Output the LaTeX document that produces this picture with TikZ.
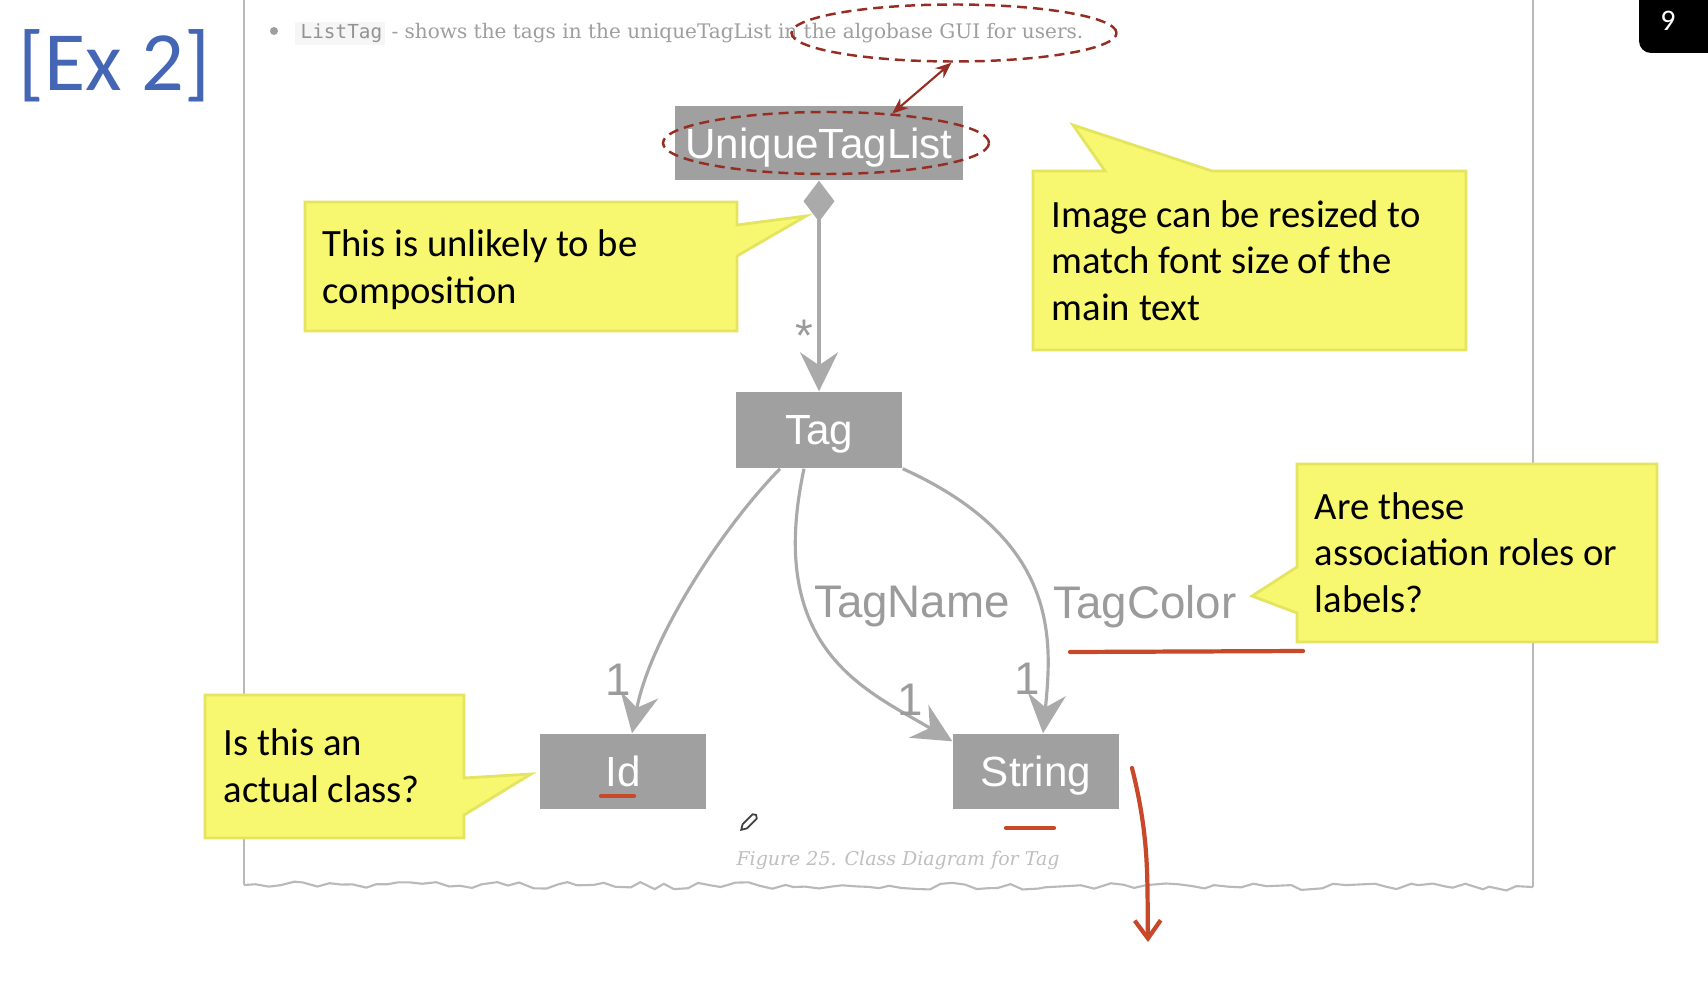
\documentclass[tikz,border=0pt]{standalone}
\usepackage{fontspec}
\setmainfont{Carlito}
\newfontfamily\umlfont{Liberation Sans}
\newfontfamily\docfont{DejaVu Serif}
\newfontfamily\codefont{DejaVu Sans Mono}
\usetikzlibrary{arrows.meta, calc, shapes.geometric, decorations.pathmorphing}
\definecolor{umlgray}{RGB}{160, 160, 160}
\definecolor{linegray}{RGB}{170, 170, 170}
\definecolor{labelgray}{RGB}{155, 155, 155}
\definecolor{textgray}{RGB}{158, 158, 158}
\definecolor{pagegray}{RGB}{185, 185, 185}
\definecolor{notefill}{RGB}{248, 247, 112}
\definecolor{noteedge}{RGB}{228, 228, 96}
\definecolor{ringred}{RGB}{150, 45, 35}
\definecolor{penred}{RGB}{200, 72, 42}
\definecolor{exblue}{RGB}{68, 102, 180}
\tikzset{
  >=Stealth,
  assoc/.style={draw=linegray, line width=0.9pt, -{Stealth[length=3.9mm, width=3.8mm, inset=1.3mm]}},
  ringarrow/.style={{Stealth[length=1.6mm, width=1.3mm]}-{Stealth[length=1.6mm, width=1.3mm]}, line width=0.6pt, ringred},
  penline/.style={draw=penred, line width=1.2pt, line cap=round}
}
\tikzset{
  classbox/.style={rectangle, fill=umlgray, text=white, inner sep=0pt, text depth=0pt, minimum width=16.6mm, minimum height=7.5mm, font=\umlfont\fontsize{12}{14}\selectfont},
  rolelabel/.style={text=labelgray, inner sep=0pt, font=\umlfont\fontsize{13}{15}\selectfont},
  notebox/.style={fill=notefill, draw=noteedge, line width=0.8pt, line join=miter},
  notetext/.style={anchor=base west, align=left, inner sep=0pt, font=\fontsize{11}{13.2}\selectfont},
  ring/.style={ellipse, draw=ringred, dashed, dash pattern=on 1.0mm off 0.6mm, line width=0.7pt, inner sep=0pt}
}

\begin{document}
\begin{tikzpicture}[x=0.1mm, y=-0.1mm]
    \useasboundingbox (0,0) rectangle (1708,998);
    \fill[white] (0,0) rectangle (1708,998);

    % Page of the guide, torn at the bottom
    \draw[pagegray, line width=0.6pt] (244,0) -- (244,885);
    \draw[pagegray, line width=0.6pt] (1533,0) -- (1533,887);
    \pgfmathsetseed{7}
    \draw[pagegray, line width=0.6pt, decorate, decoration={random steps, segment length=1.2mm, amplitude=0.35mm}] (244,885) -- (1533,887);

    % Bullet line of the guide
    \fill[textgray] (274,31) circle (0.4mm);
    \fill[gray!7] (295,22) rectangle (385,45);
    \node[anchor=base west, inner sep=0pt, text=gray!85, font=\codefont\fontsize{5.5}{6}\selectfont] (listtag) at (300,39) {ListTag};
    \node[anchor=base west, inner sep=0pt, text=textgray, font=\docfont\fontsize{5.7}{6}\selectfont] (bullettext) at ([xshift=0.8mm]listtag.base east) {- shows the tags in the uniqueTagList in the algobase GUI for users.};

    % Classes
    \node[classbox, minimum width=28.8mm, minimum height=7.4mm] (utl) at (819,143) {UniqueTagList};
    \node[classbox, minimum height=7.6mm] (tag) at (819,430) {Tag};
    \node[classbox] (idc) at (623,771.5) {Id};
    \node[classbox] (str) at (1036,771.5) {String};

    % Composition and associations
    \draw[assoc, {Diamond[length=4.1mm, width=3.1mm]}-{Stealth[length=3.9mm, width=3.8mm, inset=1.3mm]}] (utl.south) -- (tag.north);
    \draw[assoc] ([xshift=-3.9mm]tag.south) .. controls (720,530) and (650,640) .. ([xshift=0.9mm]idc.north);
    \draw[assoc] ([xshift=-1.5mm]tag.south) .. controls (765,650) and (866,690) .. ([yshift=-0.8mm]str.north west);
    \draw[assoc] (tag.south east) .. controls (1060,540) and (1052,640) .. ([xshift=0.7mm]str.north);

    % Multiplicities and role names
    \node[rolelabel] (mult_star) at (804,336) {*};
    \node[rolelabel] (mult_id) at (618,680) {1};
    \node[rolelabel] (mult_name) at (910,700) {1};
    \node[rolelabel] (mult_color) at (1027,679) {1};
    \node[rolelabel] (role_name) at (912,607) {TagName};
    \node[rolelabel] (role_color) at (1145,607) {TagColor};

    % Caption
    \node[inner sep=0pt, text=gray!50, font=\docfont\itshape\fontsize{5.4}{7}\selectfont] (caption) at (898,860) {Figure 25. Class Diagram for Tag};

    % Dashed rings and the link between them
    \node[ring, minimum width=32.5mm, minimum height=5.7mm] (ring_gui) at (954,33) {};
    \node[ring, minimum width=32.6mm, minimum height=6.2mm] (ring_utl) at (826,143) {};
    \draw[ringarrow] (ring_gui.265) -- (ring_utl.24);

    % Pen marks
    \draw[penline] (1070,652) -- (1303,651);
    \draw[penline] (601,796) -- (634,796);
    \draw[penline] (1006,828) -- (1054,828);
    \draw[penline, -{Straight Barb[length=1.8mm, width=2.6mm]}] (1132,768) .. controls (1150,840) and (1147,880) .. (1148,942);

    % Pencil cursor
    \begin{scope}[shift={(749,822)}, rotate=45]
        \draw[black!75, line width=0.5pt, fill=white] (-11,0) -- (-6,3) -- (8,3) -- (10,0) -- (8,-3) -- (-6,-3) -- cycle;
    \end{scope}

    % Callouts (text anchored at the baseline of the last line)
    \draw[notebox] (305,202) -- (737,202) -- (737,225) -- (806,216) -- (737,256) -- (737,331) -- (305,331) -- cycle;
    \node[notetext] (note_comp) at (322,303) {This is unlikely to be\\composition};

    \draw[notebox] (1033,171) -- (1105,171) -- (1073,125) -- (1212,171) -- (1466,171) -- (1466,350) -- (1033,350) -- cycle;
    \node[notetext] (note_size) at (1051,320) {Image can be resized to\\match font size of the\\main text};

    \draw[notebox] (1297,464) -- (1657,464) -- (1657,642) -- (1297,642) -- (1297,613) -- (1252,596) -- (1297,567) -- cycle;
    \node[notetext] (note_roles) at (1314,612) {Are these\\association roles or\\labels?};

    \draw[notebox] (205,695) -- (464,695) -- (464,778) -- (531,774) -- (464,815) -- (464,838) -- (205,838) -- cycle;
    \node[notetext] (note_class) at (223,802) {Is this an\\actual class?};

    % Slide title and number
    \node[anchor=base west, inner sep=0pt, text=exblue, font=\fontsize{24}{28}\selectfont] (ex_title) at (18,91) {[Ex 2]};
    \fill[black, rounded corners=1.2mm] (1639,-20) rectangle (1730,53);
    \node[text=white, inner sep=0pt, font=\fontsize{8.5}{10}\selectfont] (slide_no) at (1668,21) {9};
\end{tikzpicture}
\end{document}
